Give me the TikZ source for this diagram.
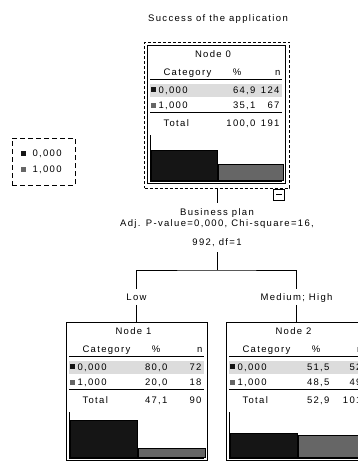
\documentclass[tikz,border=0pt]{standalone}
\usepackage{fontspec}
\setmainfont{Liberation Sans}[LetterSpace=14]
\usepackage{tikz}
\definecolor{catdark}{HTML}{151515}
\definecolor{catgray}{HTML}{666666}
\definecolor{rowband}{HTML}{DCDCDC}
\tikzset{
  txt/.style={inner sep=0pt, text height=6.6pt, text depth=0pt, font=\fontsize{9.5}{11}\selectfont},
  splittxt/.style={inner xsep=0pt, inner ysep=5pt, align=center, font=\fontsize{9.5}{11}\selectfont},
  nodebox/.style={draw, minimum height=138pt, inner sep=0pt},
  selbox/.style={draw, dash pattern=on 3pt off 2pt, inner sep=0pt},
  legbox/.style={draw, dash pattern=on 5pt off 3pt, inner sep=0pt},
  bar/.style={draw=black, line width=1pt}
}
\newcommand{\nodetable}[9]{%
  \node[nodebox, minimum width=#8pt] (n#1) at (#8/2,69) {};
  \node[txt] (lab#1) at (#8/2-3,9) {Node #1};
  \node[txt, anchor=west] (hc#1) at (16,27) {Category};
  \node[txt] (hp#1) at (90,27) {\%};
  \node[txt, anchor=east] (hn#1) at (#8-4,27) {n};
  \draw (3,34) -- (#8-3,34);
  \fill[rowband] (3,39) rectangle (#8-3,52);
  \fill[catdark] (4,42) rectangle (9,47);
  \node[txt, anchor=west] (ca#1) at (11,45) {0,000};
  \node[txt, anchor=east] (pa#1) at (#9,45) {#2};
  \node[txt, anchor=east] (na#1) at (#8-5,45) {#3};
  \fill[catgray] (4,57.5) rectangle (9,62.5);
  \node[txt, anchor=west] (cb#1) at (11,60) {1,000};
  \node[txt, anchor=east] (pb#1) at (#9,60) {#4};
  \node[txt, anchor=east] (nb#1) at (#8-5,60) {#5};
  \draw (3,67) -- (#8-3,67);
  \node[txt, anchor=west] (tc#1) at (16,78) {Total};
  \node[txt, anchor=east] (tp#1) at (#9,78) {#6};
  \node[txt, anchor=east] (tn#1) at (#8-5,78) {#7};
  \draw (3,90) -- (3,136) -- (#8-3,136);
}
\newcommand{\bars}[3]{%
  \draw[bar, fill=catdark] (4,135.5) rectangle (#3/2+1,{135.5-#1});
  \draw[bar, fill=catgray] (#3/2+2,135.5) rectangle (#3-2,{135.5-#2});
}

\begin{document}
\begin{tikzpicture}[x=1pt,y=-1pt,line width=1pt]
  \useasboundingbox (0,0) rectangle (358,461);
  \clip (0,0) rectangle (358,461);

  \node[txt] (title) at (218,18) {Success of the application};

  \node[legbox, minimum width=63pt, minimum height=47pt] (legend) at (43.5,161.5) {};
  \fill[catdark] (21,150.5) rectangle (26,155.5);
  \node[txt, anchor=west] (leg0) at (32,153) {0,000};
  \fill[catgray] (21,166.5) rectangle (26,171.5);
  \node[txt, anchor=west] (leg1) at (32,169) {1,000};

  \node[selbox, minimum width=145pt, minimum height=146pt] (sel) at (217,115) {};
  \begin{scope}[shift={(147,45)}]
    \nodetable{0}{64,9}{124}{35,1}{67}{100,0}{191}{138}{109}
    \bars{30}{16.1}{138}
  \end{scope}
  \node[draw, minimum width=11pt, minimum height=11pt, inner sep=0pt] (collapse) at (279,194.5) {\rule{6pt}{1pt}};

  \node[splittxt, anchor=north] (split) at (217,203)
    {Business plan\\Adj. P-value=0,000, Chi-square=16,\\[8pt]992, df=1};
  \coordinate (fork) at (217,270);

  \node[txt, inner ysep=4pt] (low) at (136.5,297) {Low};
  \node[txt, inner ysep=4pt] (high) at (296.5,297) {Medium; High};

  \begin{scope}[shift={(66,322)}]
    \nodetable{1}{80,0}{72}{20,0}{18}{47,1}{90}{141}{102}
    \bars{36.8}{9.2}{141}
  \end{scope}
  \begin{scope}[shift={(226,322)}]
    \nodetable{2}{51,5}{52}{48,5}{49}{52,9}{101}{141}{104}
    \bars{23.7}{22.3}{141}
  \end{scope}

  \draw (sel.south) -- (split.north);
  \draw (split.south) -- (fork);
  \draw (low.north) |- (fork) -| (high.north);
  \draw (low.south) -- (n1.north);
  \draw (high.south) -- (n2.north);
\end{tikzpicture}
\end{document}
